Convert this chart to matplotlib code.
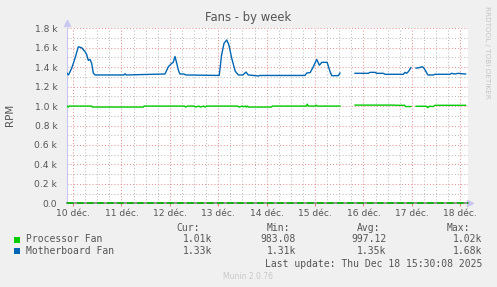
import numpy as np
import matplotlib
matplotlib.use("Agg")
import matplotlib.pyplot as plt

# munin "Fans - by week" graph
# time in days from 10 dec 00:00, values in rpm (nan = no data)
nan = np.nan

mb_days = [-0.124, -0.093, -0.027, 0.041, 0.110, 0.180, 0.248, 0.283, 0.316, 0.351,
           0.386, 0.419, 0.455, 1.05, 1.074, 1.10, 1.90, 1.97, 2.04, 2.07,
           2.107, 2.143, 2.176, 2.21, 2.29, 2.335, 3.02, 3.07, 3.12, 3.176,
           3.22, 3.28, 3.35, 3.415, 3.51, 3.574, 3.62, 3.83, 3.86, 4.79,
           4.83, 4.90, 4.965, 5.035, 5.09, 5.14, 5.21, 5.25, 5.31, 5.345,
           5.48, 5.516, 5.55, 5.826, 6.10, 6.136, 6.24, 6.275, 6.41, 6.446,
           6.824, 6.86, 6.89, 6.93, 6.98, 7.03, 7.087, 7.15, 7.217, 7.25,
           7.287, 7.33, 7.44, 7.48, 7.79, 7.82, 7.89, 7.96, 8.03, 8.11]
mb_rpm = [1337, 1320, 1390, 1490, 1610, 1600, 1560, 1530, 1470, 1480,
          1440, 1340, 1320, 1320, 1332, 1320, 1330, 1405, 1440, 1450,
          1510, 1440, 1370, 1330, 1330, 1320, 1315, 1525, 1646, 1680,
          1630, 1490, 1360, 1320, 1320, 1350, 1320, 1310, 1315, 1315,
          1340, 1345, 1405, 1480, 1420, 1450, 1450, 1450, 1355, 1313,
          1313, 1340, nan, 1337, 1337, 1347, 1347, 1337, 1337, 1327,
          1327, 1347, 1337, 1355, 1395, nan, 1390, 1395, 1405, 1390,
          1360, 1320, 1320, 1327, 1327, 1337, 1330, 1337, 1333, 1330]

cpu_days = [-0.124, -0.10, -0.08, -0.06, 0.386, 0.40, 1.45, 1.47, 2.30, 2.33,
            2.36, 2.50, 2.53, 2.60, 2.63, 2.70, 2.73, 2.76, 3.40, 3.43,
            3.50, 3.52, 3.56, 3.58, 3.60, 3.62, 4.10, 4.12, 4.78, 4.82,
            4.84, 4.86, 5.00, 5.02, 5.04, 5.516, 5.55, 5.826, 6.65, 6.67,
            6.85, 6.87, 6.98, 7.03, 7.087, 7.30, 7.33, 7.36, 7.44, 7.48, 8.11]
cpu_rpm = [1000, 990, 1000, 1000, 1000, 990, 990, 1000, 1000, 990,
           1000, 1000, 990, 1000, 990, 1000, 990, 1000, 1000, 990,
           1000, 992, 1000, 990, 1000, 990, 990, 1000, 1000, 1000,
           1020, 1000, 1000, 1010, 1000, 1000, nan, 1010, 1010, 1008,
           1008, 995, 995, nan, 998, 998, 983, 998, 995, 1008, 1008]

day_labels = ['10 déc.', '11 déc.', '12 déc.', '13 déc.', '14 déc.',
              '15 déc.', '16 déc.', '17 déc.', '18 déc.']
y_ticks = [0, 200, 400, 600, 800, 1000, 1200, 1400, 1600, 1800]

series_names = ['Processor Fan', 'Motherboard Fan']
series_colors = ['#00cc00', '#0066b3']
cur = ['1.01k', '1.33k']
vmin = ['983.08', '1.31k']
avg = ['997.12', '1.35k']
vmax = ['1.02k', '1.68k']
last_update = 'Last update: Thu Dec 18 15:30:08 2025'

W, H = 497, 287
fig = plt.figure(figsize=(W / 100, H / 100), dpi=100)
fig.patch.set_facecolor('#f0f0f0')

def px(x, y):
    return x / W, 1 - y / H

ax_left, ax_right, ax_top, ax_bot = 67, 468, 28.3, 203.3
ax = fig.add_axes([ax_left / W, 1 - ax_bot / H, (ax_right - ax_left) / W, (ax_bot - ax_top) / H])
ax.set_facecolor('white')

ax.set_xlim(-0.124, 8.16)
ax.set_ylim(0, 1800)

# grid: gray dotted minor, red dotted major
ax.set_xticks(range(9))
ax.set_xticklabels(day_labels)
ax.set_xticks(np.arange(-0.0, 8.2, 0.25), minor=True)
ax.set_yticks(y_ticks)
ax.set_yticklabels(['0.0'] + ['%.1f k' % (v / 1000.0) for v in y_ticks[1:]])
ax.set_yticks(np.arange(0, 1801, 100), minor=True)
ax.grid(which='minor', color='#bdbdbd', linestyle=(0, (1, 2)), linewidth=0.75)
ax.grid(which='major', color='#e49494', linestyle=(0, (1, 2)), linewidth=0.75)
ax.set_axisbelow(True)

for s in ['top', 'right', 'bottom']:
    ax.spines[s].set_visible(False)
ax.spines['left'].set_color('#c8c8f0')
ax.spines['left'].set_linewidth(0.8)

ax.tick_params(axis='y', which='both', length=0, pad=7, labelsize=6.6, labelcolor='#555555')
ax.tick_params(axis='x', which='major', length=2, color='#e08080', pad=2, labelsize=6.6, labelcolor='#555555')
ax.tick_params(axis='x', which='minor', length=0)

# zero line + axis arrows
ax.axhline(0, color='#808080', linewidth=1.2, zorder=3, clip_on=False)
ax.axhline(0, color='#00b800', linewidth=1.2, linestyle=(0, (4, 2)), zorder=4, clip_on=False)
ax.plot([0], [1.03], marker='^', color='#c8c8f0', markersize=4, transform=ax.transAxes, clip_on=False)
ax.plot([1.006], [0], marker='>', color='#c8c8f0', markersize=4, transform=ax.transAxes, clip_on=False)

ax.plot(cpu_days, cpu_rpm, color=series_colors[0], linewidth=1.0, zorder=5)
ax.plot(mb_days, mb_rpm, color=series_colors[1], linewidth=1.0, zorder=5)

fig.text(*px(248.5, 18), 'Fans - by week', ha='center', va='center', fontsize=8.4, color='#555555')
fig.text(*px(10, 115), 'RPM', rotation=90, ha='center', va='center', fontsize=7.5, color='#555555')
fig.text(*px(487, 52), 'RRDTOOL / TOBI OETIKER', rotation=270, ha='center', va='center',
         fontsize=5.2, color='#c4c4c4')

# legend table
mono = dict(family='DejaVu Sans Mono', fontsize=7, color='#555555', va='center')
fig.text(*px(176.7, 228), 'Cur:', ha='left', **mono)
fig.text(*px(266.7, 228), 'Min:', ha='left', **mono)
fig.text(*px(356.7, 228), 'Avg:', ha='left', **mono)
fig.text(*px(446.7, 228), 'Max:', ha='left', **mono)
for i, name in enumerate(series_names):
    y = 239.5 + i * 11.7
    fig.patches.append(plt.Rectangle(px(14, y + 3), 6 / W, 6 / H, transform=fig.transFigure,
                                     facecolor=series_colors[i], edgecolor='none'))
    fig.text(*px(26, y), name, ha='left', **mono)
    fig.text(*px(212, y), cur[i], ha='right', **mono)
    fig.text(*px(296, y), vmin[i], ha='right', **mono)
    fig.text(*px(386.7, y), avg[i], ha='right', **mono)
    fig.text(*px(482.7, y), vmax[i], ha='right', **mono)
fig.text(*px(482.7, 264), last_update, ha='right', **mono)

fig.text(*px(248, 276.5), 'Munin 2.0.76', ha='center', va='center', fontsize=5.5, color='#c8c8c8')

fig.savefig('out.png', dpi=100, facecolor=fig.get_facecolor())
